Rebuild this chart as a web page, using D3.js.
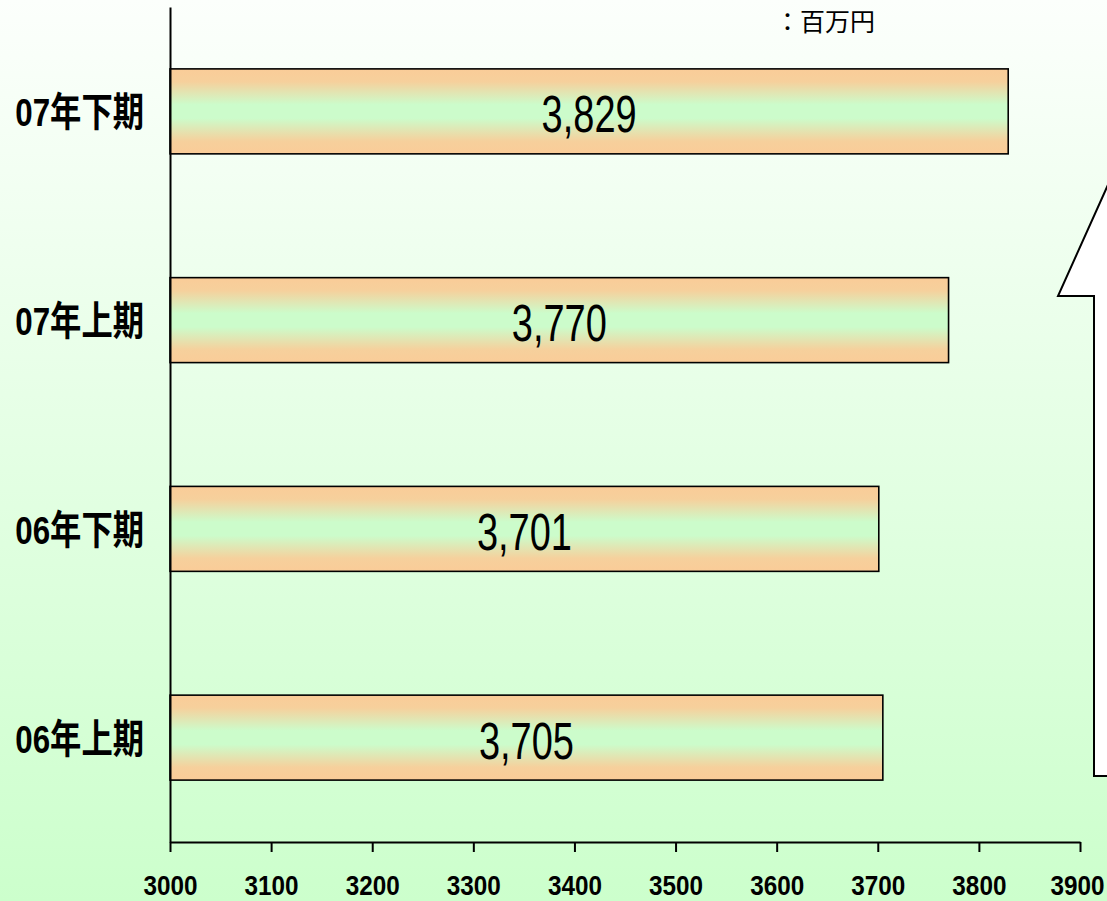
<!DOCTYPE html>
<html>
<head>
<meta charset="utf-8">
<script src="https://cdn.jsdelivr.net/npm/d3@7"></script>
<style>
  html, body { margin: 0; padding: 0; background: #fff; }
  svg { display: block; }
</style>
</head>
<body>
<svg id="chart" width="1107" height="901"></svg>
<script>
// Half-year periods, listed top to bottom
const periods = ["07年下期", "07年上期", "06年下期", "06年上期"];
// Sales in millions of yen
const amounts = [3829, 3770, 3701, 3705];
// Horizontal axis ticks
const tickValues = [3000, 3100, 3200, 3300, 3400, 3500, 3600, 3700, 3800, 3900];
const unitLabel = "：百万円";

const W = 1107, H = 901;
const svg = d3.select("#chart");
const defs = svg.append("defs");
const sansFont = "'Liberation Sans', Arial, 'Noto Sans CJK JP', sans-serif";

// Page background: pale at the top, light green at the bottom
const bg = defs.append("linearGradient").attr("id", "bgGrad")
  .attr("x1", 0).attr("y1", 0).attr("x2", 0).attr("y2", 1);
bg.append("stop").attr("offset", "0%").attr("stop-color", "#fcfffc");
bg.append("stop").attr("offset", "100%").attr("stop-color", "#ccffcc");
svg.append("rect").attr("width", W).attr("height", H).attr("fill", "url(#bgGrad)");

// Bar fill: orange edges fading to green in the middle
const barGrad = defs.append("linearGradient").attr("id", "barGrad")
  .attr("x1", 0).attr("y1", 0).attr("x2", 0).attr("y2", 1);
barGrad.append("stop").attr("offset", "0%").attr("stop-color", "#facc98");
barGrad.append("stop").attr("offset", "15%").attr("stop-color", "#f6d09c");
barGrad.append("stop").attr("offset", "42%").attr("stop-color", "#ccfccb");
barGrad.append("stop").attr("offset", "58%").attr("stop-color", "#ccfccb");
barGrad.append("stop").attr("offset", "85%").attr("stop-color", "#f6d09c");
barGrad.append("stop").attr("offset", "100%").attr("stop-color", "#facc98");

const plot = { left: 170, right: 1080, top: 7, bottom: 842 };

const x = d3.scaleLinear().domain([3000, 3900]).range([plot.left, plot.right]);
const y = d3.scaleBand().domain(periods).range([plot.top, plot.bottom])
  .paddingInner(0.593).paddingOuter(0.2965);

const data = periods.map((p, i) => ({ period: p, value: amounts[i] }));

// Upward arrow at the right edge, partly running off the page
const arrowPts = [
  [1094, 776], [1094, 296], [1058, 296], [1107 + 49 * 0.6, 187 - 109 * 0.6],
  [1160, 296], [1160, 776]
];
svg.append("path")
  .attr("d", d3.line()(arrowPts) + "Z")
  .attr("fill", "#ffffff")
  .attr("stroke", "#000")
  .attr("stroke-width", 2);

// Bars
svg.append("g").selectAll("rect").data(data).join("rect")
  .attr("x", x(3000))
  .attr("y", d => y(d.period))
  .attr("width", d => x(d.value) - x(3000))
  .attr("height", y.bandwidth())
  .attr("fill", "url(#barGrad)")
  .attr("stroke", "#000")
  .attr("stroke-width", 1.6);

// Value labels centred in each bar (condensed)
const fmt = d3.format(",");
svg.append("g").selectAll("text").data(data).join("text")
  .attr("transform", d => {
    const cx = (x(3000) + x(d.value)) / 2;
    const cy = y(d.period) + y.bandwidth() / 2 + 21;
    return `translate(${cx},${cy}) scale(0.73,1)`;
  })
  .attr("text-anchor", "middle")
  .attr("font-family", sansFont)
  .attr("font-size", 52)
  .attr("fill", "#000")
  .text(d => fmt(d.value));

// Bottom axis
const xAxis = svg.append("g")
  .attr("transform", `translate(0,${plot.bottom})`)
  .call(d3.axisBottom(x).tickValues(tickValues).tickSize(10).tickSizeOuter(0).tickFormat(d3.format("d")));
xAxis.select(".domain").attr("stroke", "#000").attr("stroke-width", 2);
xAxis.selectAll(".tick line").attr("stroke", "#000").attr("stroke-width", 2);
xAxis.selectAll(".tick text")
  .attr("y", null).attr("dy", null)
  .attr("transform", (d, i, n) => {
    // keep the last label inside the page
    const shift = i === n.length - 1 ? -3 : 0;
    return `translate(${shift},53) scale(0.9,1)`;
  })
  .attr("fill", "#000")
  .attr("font-family", sansFont)
  .attr("font-weight", "bold")
  .attr("font-size", 27);

// Left axis with period names
const yAxis = svg.append("g")
  .attr("transform", `translate(${plot.left},0)`)
  .call(d3.axisLeft(y).tickSize(0).tickSizeOuter(0));
yAxis.select(".domain").attr("stroke", "#000").attr("stroke-width", 2);
yAxis.selectAll(".tick text")
  .attr("x", null).attr("dy", null)
  .attr("transform", "translate(-26,15) scale(0.87,1.1)")
  .attr("fill", "#000")
  .attr("font-family", sansFont)
  .attr("font-weight", "bold")
  .attr("font-size", 36);

// Unit note
svg.append("text")
  .attr("x", 775).attr("y", 31)
  .attr("font-family", "'Noto Sans CJK JP', sans-serif")
  .attr("font-size", 25)
  .attr("fill", "#000")
  .text(unitLabel);
</script>
</body>
</html>
